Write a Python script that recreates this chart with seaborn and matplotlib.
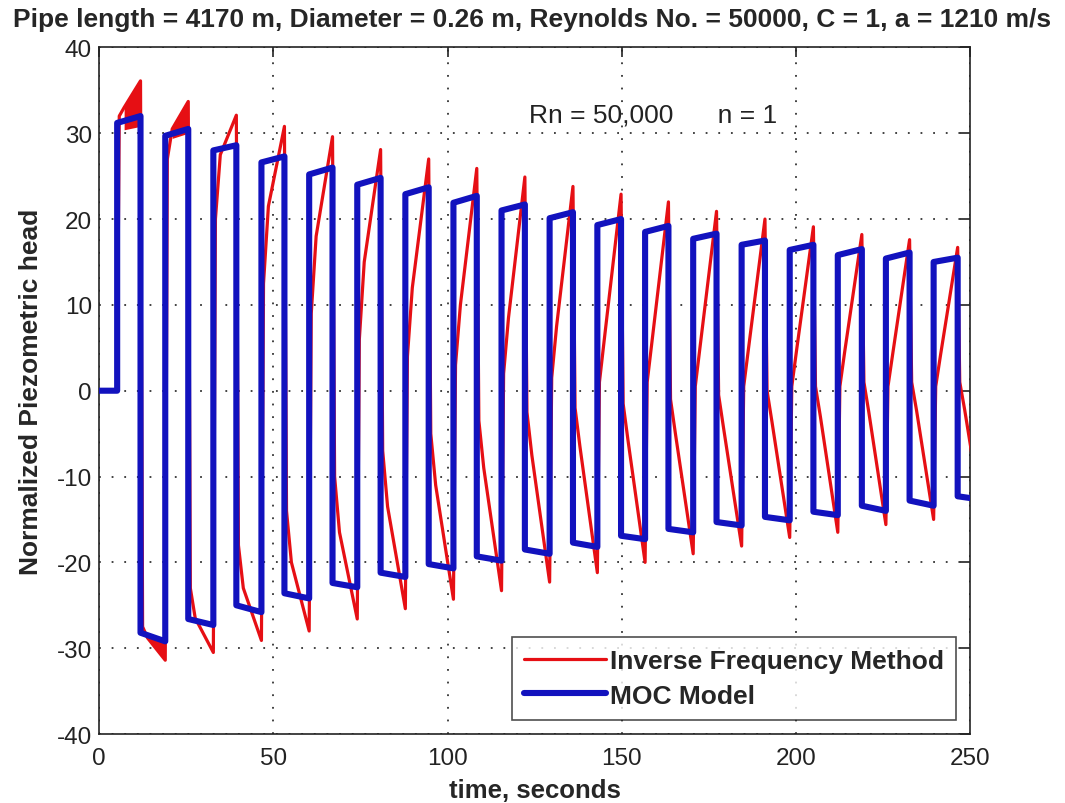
import matplotlib
matplotlib.use("Agg")
import matplotlib.pyplot as plt
import numpy as np
import pandas as pd
import seaborn as sns

# Surge cycles after valve closure (seconds)
rise_times = [5.2, 19.0, 32.8, 46.6, 60.3, 74.1, 87.9, 101.7, 115.5, 129.3,
              143.0, 156.7, 170.5, 184.4, 198.2, 212.0, 225.8, 239.5]
fall_times = [11.9, 25.6, 39.4, 53.2, 67.0, 80.8, 94.6, 108.4, 122.2, 136.0,
              149.8, 163.4, 177.2, 191.1, 205.0, 218.9, 232.6, 246.4]
end_time = 253.3

# MOC model plateaus
moc_high_start = [31.2, 29.7, 28.0, 26.6, 25.2, 24.0, 22.9, 21.9, 21.0, 20.1,
                  19.3, 18.5, 17.7, 17.0, 16.4, 15.8, 15.4, 15.0]
moc_high_end = [32.0, 30.5, 28.6, 27.3, 26.0, 24.8, 23.7, 22.7, 21.7, 20.8,
                20.0, 19.2, 18.3, 17.5, 17.0, 16.5, 16.1, 15.5]
moc_low_start = [-28.2, -26.6, -25.0, -23.6, -22.4, -21.2, -20.2, -19.3, -18.5, -17.7,
                 -16.9, -16.1, -15.3, -14.7, -14.1, -13.4, -12.8, -12.3]
moc_low_end = [-29.2, -27.3, -25.8, -24.2, -22.9, -21.7, -20.7, -19.8, -19.0, -18.2,
               -17.3, -16.5, -15.7, -15.1, -14.5, -14.0, -13.4, -12.7]

# Inverse frequency method: level just after each front, 2 s after it, and at its end
ifm_high_jump = [32.0, 27.0, 20.0, 12.5, 9.0, 6.0, 4.0, 3.0, 2.0, 1.5,
                 1.0, 1.0, 0.5, 0.5, 0.5, 0.5, 0.5, 0.5]
ifm_high_knee = [33.0, 30.5, 27.5, 21.5, 18.0, 15.0, 12.0, 10.0, 8.5, 7.5,
                 6.0, 5.8, 5.2, 5.0, 4.8, 4.6, 4.4, 4.2]
ifm_high_peak = [36.1, 33.7, 32.1, 30.8, 29.6, 28.1, 27.0, 25.9, 24.9, 23.8,
                 22.9, 22.0, 20.9, 20.0, 19.1, 18.2, 17.6, 16.7]
ifm_low_jump = [-27.5, -23.0, -18.0, -14.0, -10.0, -7.0, -5.0, -3.5, -2.5, -2.0,
                -1.5, -1.0, -0.5, 0.0, 0.5, 1.0, 1.0, 1.0]
ifm_low_knee = [-28.8, -26.5, -23.0, -20.0, -16.5, -13.5, -11.0, -9.0, -7.5, -6.5,
                -5.8, -5.0, -4.3, -3.6, -3.0, -2.5, -2.3, -2.2]
ifm_low_trough = [-31.4, -30.5, -29.1, -28.0, -26.6, -25.4, -24.3, -23.3, -22.3, -21.2,
                  -20.0, -19.0, -18.1, -17.1, -16.5, -15.6, -15.0, -14.5]
front_lag = 0.6
knee_lag = 2.0

# Oscillation bands of the IFM trace in the first half-cycles
band_cycles = [0, 0, 1]
band_phase = ["high", "low", "high"]
band_inner_start = [30.4, -28.2, 29.4]
band_inner_end = [30.8, -29.0, 30.0]

n = len(rise_times)
next_rise = rise_times[1:] + [end_time]

moc_t, moc_h = [0.0, rise_times[0]], [0.0, 0.0]
ifm_t, ifm_h = [0.0, rise_times[0]], [0.0, 0.0]
for k in range(n):
    moc_t += [rise_times[k], fall_times[k], fall_times[k], next_rise[k], next_rise[k]]
    moc_h += [moc_high_start[k], moc_high_end[k], moc_low_start[k], moc_low_end[k],
              moc_low_end[k]]
    ifm_t += [rise_times[k] + front_lag, rise_times[k] + knee_lag, fall_times[k],
              fall_times[k] + front_lag, fall_times[k] + knee_lag, next_rise[k]]
    ifm_h += [ifm_high_jump[k], ifm_high_knee[k], ifm_high_peak[k],
              ifm_low_jump[k], ifm_low_knee[k], ifm_low_trough[k]]

moc = pd.DataFrame({"time": moc_t, "head": moc_h})
ifm = pd.DataFrame({"time": ifm_t, "head": ifm_h})

sns.set_theme(style="white")
plt.rcParams["font.family"] = ["Liberation Sans", "DejaVu Sans"]
plt.rcParams["axes.unicode_minus"] = False

fig = plt.figure(figsize=(10.65, 8.04), dpi=100)
ax = fig.add_axes([0.093, 0.0858, 0.818, 0.854])

red = "#e60f14"
blue = "#1212be"

sns.lineplot(data=ifm, x="time", y="head", ax=ax, color=red, linewidth=2.3,
             estimator=None, sort=False, label="Inverse Frequency Method", zorder=3)
for c, ph, a, b in zip(band_cycles, band_phase, band_inner_start, band_inner_end):
    if ph == "high":
        xs = [rise_times[c] + knee_lag, fall_times[c]]
        ys = [ifm_high_knee[c], ifm_high_peak[c]]
    else:
        xs = [fall_times[c] + knee_lag, next_rise[c]]
        ys = [ifm_low_knee[c], ifm_low_trough[c]]
    ax.fill_between(xs, ys, [a, b], color=red, linewidth=0, zorder=3)
sns.lineplot(data=moc, x="time", y="head", ax=ax, color=blue, linewidth=4.4,
             estimator=None, sort=False, label="MOC Model", zorder=4)

ax.set_xlim(0, 250)
ax.set_ylim(-40, 40)
ax.set_xticks(np.arange(0, 251, 50))
ax.set_yticks(np.arange(-40, 41, 10))
ax.grid(True, color="#333333", linestyle=(0, (1, 6)), linewidth=1.3)
ax.tick_params(direction="in", length=7, width=1.2, top=True, right=True,
               labelsize=17.5, pad=5, colors="#222222")
ax.tick_params(axis="x", pad=9)
for s in ax.spines.values():
    s.set_visible(True)
    s.set_color("#222222")
    s.set_linewidth(1.2)

ax.set_xlabel("time, seconds", fontsize=18.5, fontweight="bold", labelpad=7)
ax.set_ylabel("Normalized Piezometric head", fontsize=19, fontweight="bold", labelpad=10)
fig.text(0.5, 0.975, "Pipe length = 4170 m, Diameter = 0.26 m, Reynolds No. = 50000, C = 1, a = 1210 m/s",
         ha="center", va="center", fontsize=19, fontweight="bold")
ax.text(123.5, 32.2, "Rn = 50,000      n = 1", fontsize=19, va="center", ha="left", color="#222222")

leg = ax.legend(loc="lower right", fontsize=19, frameon=True, fancybox=False,
                handlelength=3.1, borderaxespad=0.55, borderpad=0.45, labelspacing=0.4,
                handletextpad=0.15)
leg.get_frame().set_edgecolor("#222222")
leg.get_frame().set_linewidth(1.2)
for t in leg.get_texts():
    t.set_fontweight("bold")

fig.savefig("out.png", dpi=100, facecolor="white")
